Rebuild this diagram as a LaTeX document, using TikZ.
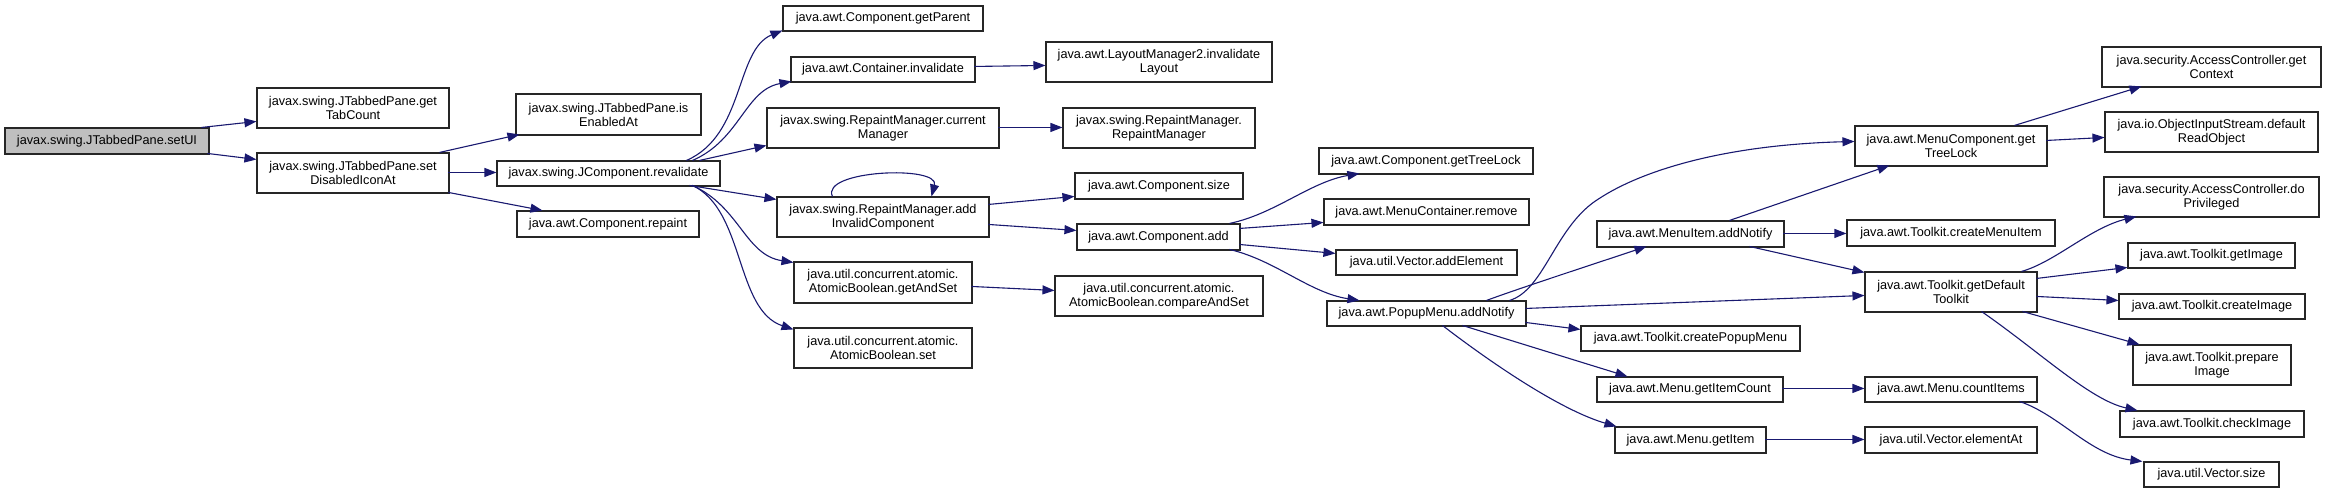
\documentclass[tikz,border=0pt]{standalone}
\usepackage{fontspec}
\setmainfont{Liberation Sans}
\usetikzlibrary{arrows.meta}
\definecolor{edgecol}{RGB}{25,25,112}
\definecolor{rootfill}{RGB}{191,191,191}
\newcommand\dxbox[7][white]{%
 \pgfmathsetmacro\bxcx{(#3+#5)/2}%
 \pgfmathsetmacro\bxcy{(#4+#6)/2}%
 \pgfmathsetmacro\bxw{#5-#3}%
 \pgfmathsetmacro\bxh{#6-#4}%
 \node[box, fill=#1, minimum width=\bxw pt, minimum height=\bxh pt] (#2) at (\bxcx,\bxcy) {#7};}
\begin{document}
\begin{tikzpicture}[x=1pt,y=-1pt,
  box/.style={draw=black!85, line width=1.1pt, inner sep=0pt, align=center,
    font=\fontsize{12.7}{14}\selectfont},
  edge/.style={draw=edgecol, line width=1.1pt, -{Triangle[length=12pt,width=9pt]}}]
\useasboundingbox[fill=white] (0,0) rectangle (2327,493);
% nodes
\dxbox[rootfill]{setUI}{5}{128}{209}{154}{javax.swing.JTabbedPane.setUI}
\dxbox{tabcount}{257}{88}{449}{128}{javax.swing.JTabbedPane.get\\TabCount}
\dxbox{disicon}{257}{153}{449}{193}{javax.swing.JTabbedPane.set\\DisabledIconAt}
\dxbox{isenabled}{516}{94}{701}{135}{javax.swing.JTabbedPane.is\\EnabledAt}
\dxbox{revalidate}{497}{161}{720}{186}{javax.swing.JComponent.revalidate}
\dxbox{repaint}{517}{211}{699}{237}{java.awt.Component.repaint}
\dxbox{getparent}{783}{6}{983}{31}{java.awt.Component.getParent}
\dxbox{cinvalidate}{791}{57}{975}{82}{java.awt.Container.invalidate}
\dxbox{curmgr}{767}{108}{999}{148}{javax.swing.RepaintManager.current\\Manager}
\dxbox{addinv}{777}{197}{989}{237}{javax.swing.RepaintManager.add\\InvalidComponent}
\dxbox{getandset}{794}{262}{972}{303}{java.util.concurrent.atomic.\\AtomicBoolean.getAndSet}
\dxbox{abset}{794}{328}{972}{368}{java.util.concurrent.atomic.\\AtomicBoolean.set}
\dxbox{invlayout}{1046}{42}{1272}{82}{java.awt.LayoutManager2.invalidate\\Layout}
\dxbox{rmgr}{1063}{108}{1255}{148}{javax.swing.RepaintManager.\\RepaintManager}
\dxbox{csize}{1075}{173}{1243}{199}{java.awt.Component.size}
\dxbox{cadd}{1077}{224}{1240}{250}{java.awt.Component.add}
\dxbox{cas}{1055}{276}{1263}{316}{java.util.concurrent.atomic.\\AtomicBoolean.compareAndSet}
\dxbox{gettreelock}{1319}{148}{1533}{174}{java.awt.Component.getTreeLock}
\dxbox{mcremove}{1324}{199}{1529}{225}{java.awt.MenuContainer.remove}
\dxbox{addelem}{1336}{250}{1517}{275}{java.util.Vector.addElement}
\dxbox{popup}{1327}{301}{1526}{326}{java.awt.PopupMenu.addNotify}
\dxbox{mctl}{1855}{126}{2047}{166}{java.awt.MenuComponent.get\\TreeLock}
\dxbox{miadd}{1597}{221}{1784}{247}{java.awt.MenuItem.addNotify}
\dxbox{cmi}{1847}{220}{2055}{246}{java.awt.Toolkit.createMenuItem}
\dxbox{gdt}{1865}{272}{2037}{312}{java.awt.Toolkit.getDefault\\Toolkit}
\dxbox{cpm}{1581}{326}{1800}{351}{java.awt.Toolkit.createPopupMenu}
\dxbox{gic}{1597}{377}{1783}{402}{java.awt.Menu.getItemCount}
\dxbox{gi}{1615}{427}{1766}{453}{java.awt.Menu.getItem}
\dxbox{ci}{1865}{377}{2037}{402}{java.awt.Menu.countItems}
\dxbox{eat}{1865}{427}{2037}{453}{java.util.Vector.elementAt}
\dxbox{gctx}{2102}{47}{2321}{87}{java.security.AccessController.get\\Context}
\dxbox{dro}{2105}{112}{2318}{152}{java.io.ObjectInputStream.default\\ReadObject}
\dxbox{dopriv}{2104}{177}{2319}{217}{java.security.AccessController.do\\Privileged}
\dxbox{gimg}{2128}{243}{2295}{268}{java.awt.Toolkit.getImage}
\dxbox{cimg}{2119}{294}{2305}{319}{java.awt.Toolkit.createImage}
\dxbox{pimg}{2133}{345}{2291}{385}{java.awt.Toolkit.prepare\\Image}
\dxbox{chk}{2120}{411}{2304}{437}{java.awt.Toolkit.checkImage}
\dxbox{vsize}{2144}{462}{2279}{487}{java.util.Vector.size}
% edges
\draw[edge] ([shift={(197,0)}]setUI.north west) -- ([shift={(0,34)}]tabcount.north west);
\draw[edge] ([shift={(203,26)}]setUI.north west) -- ([shift={(0,7)}]disicon.north west);
\draw[edge] ([shift={(183,0)}]disicon.north west) -- ([shift={(4,41)}]isenabled.north west);
\draw[edge] ([shift={(192,20)}]disicon.north west) -- ([shift={(0,12)}]revalidate.north west);
\draw[edge] ([shift={(192,40)}]disicon.north west) -- ([shift={(26,0)}]repaint.north west);
\draw[edge] ([shift={(190,0)}]revalidate.north west) .. controls (745,135) and (735,50) .. ([shift={(0,25)}]getparent.north west);
\draw[edge] ([shift={(196,0)}]revalidate.north west) .. controls (740,140) and (745,90) .. ([shift={(1,25)}]cinvalidate.north west);
\draw[edge] ([shift={(203,0)}]revalidate.north west) -- ([shift={(0,38)}]curmgr.north west);
\draw[edge] ([shift={(193,25)}]revalidate.north west) -- ([shift={(0,3)}]addinv.north west);
\draw[edge] ([shift={(196,25)}]revalidate.north west) .. controls (740,207) and (745,255) .. ([shift={(0,1)}]getandset.north west);
\draw[edge] ([shift={(196,25)}]revalidate.north west) .. controls (745,210) and (735,310) .. ([shift={(0,2)}]abset.north west);
\draw[edge] ([shift={(184,10)}]cinvalidate.north west) -- ([shift={(0,24)}]invlayout.north west);
\draw[edge] ([shift={(232,20)}]curmgr.north west) -- ([shift={(0,20)}]rmgr.north west);
\draw[edge] ([shift={(56,0)}]addinv.north west) .. controls (820,170) and (940,165) .. ([shift={(155,0)}]addinv.north west);
\draw[edge] ([shift={(212,8)}]addinv.north west) -- ([shift={(0,24)}]csize.north west);
\draw[edge] ([shift={(212,28)}]addinv.north west) -- ([shift={(0,7)}]cadd.north west);
\draw[edge] ([shift={(178,25)}]getandset.north west) -- ([shift={(0,15)}]cas.north west);
\draw[edge] ([shift={(153,0)}]cadd.north west) .. controls (1275,214) and (1310,182) .. ([shift={(41,26)}]gettreelock.north west);
\draw[edge] ([shift={(163,5)}]cadd.north west) -- ([shift={(0,24)}]mcremove.north west);
\draw[edge] ([shift={(163,21)}]cadd.north west) -- ([shift={(0,4)}]addelem.north west);
\draw[edge] ([shift={(153,26)}]cadd.north west) .. controls (1275,260) and (1310,293) .. ([shift={(33,0)}]popup.north west);
\draw[edge] ([shift={(183,0)}]popup.north west) .. controls (1545,290) and (1555,225) .. (1600,198) .. controls (1640,172) and (1720,145) .. ([shift={(0,16)}]mctl.north west);
\draw[edge] ([shift={(160,0)}]popup.north west) .. controls (1520,288) and (1600,262) .. ([shift={(50,26)}]miadd.north west);
\draw[edge] ([shift={(199,8)}]popup.north west) -- ([shift={(0,24)}]gdt.north west);
\draw[edge] ([shift={(199,22)}]popup.north west) -- ([shift={(0,4)}]cpm.north west);
\draw[edge] ([shift={(136,25)}]popup.north west) -- ([shift={(31,0)}]gic.north west);
\draw[edge] ([shift={(116,25)}]popup.north west) .. controls (1490,362) and (1560,410) .. ([shift={(2,0)}]gi.north west);
\draw[edge] ([shift={(133,0)}]miadd.north west) -- ([shift={(35,40)}]mctl.north west);
\draw[edge] ([shift={(187,13)}]miadd.north west) -- ([shift={(0,14)}]cmi.north west);
\draw[edge] ([shift={(153,26)}]miadd.north west) -- ([shift={(0,1)}]gdt.north west);
\draw[edge] ([shift={(160,0)}]mctl.north west) -- ([shift={(40,40)}]gctx.north west);
\draw[edge] ([shift={(192,15)}]mctl.north west) -- ([shift={(0,26)}]dro.north west);
\draw[edge] ([shift={(157,0)}]gdt.north west) .. controls (2055,262) and (2090,228) .. ([shift={(33,40)}]dopriv.north west);
\draw[edge] ([shift={(172,7)}]gdt.north west) -- ([shift={(0,25)}]gimg.north west);
\draw[edge] ([shift={(172,25)}]gdt.north west) -- ([shift={(0,7)}]cimg.north west);
\draw[edge] ([shift={(158,40)}]gdt.north west) -- ([shift={(7,0)}]pimg.north west);
\draw[edge] ([shift={(117,40)}]gdt.north west) .. controls (2040,352) and (2090,400) .. ([shift={(18,0)}]chk.north west);
\draw[edge] ([shift={(186,12)}]gic.north west) -- ([shift={(0,12)}]ci.north west);
\draw[edge] ([shift={(151,13)}]gi.north west) -- ([shift={(0,13)}]eat.north west);
\draw[edge] ([shift={(155,25)}]ci.north west) .. controls (2060,415) and (2090,455) .. ([shift={(-1,0)}]vsize.north west);
\end{tikzpicture}
\end{document}
